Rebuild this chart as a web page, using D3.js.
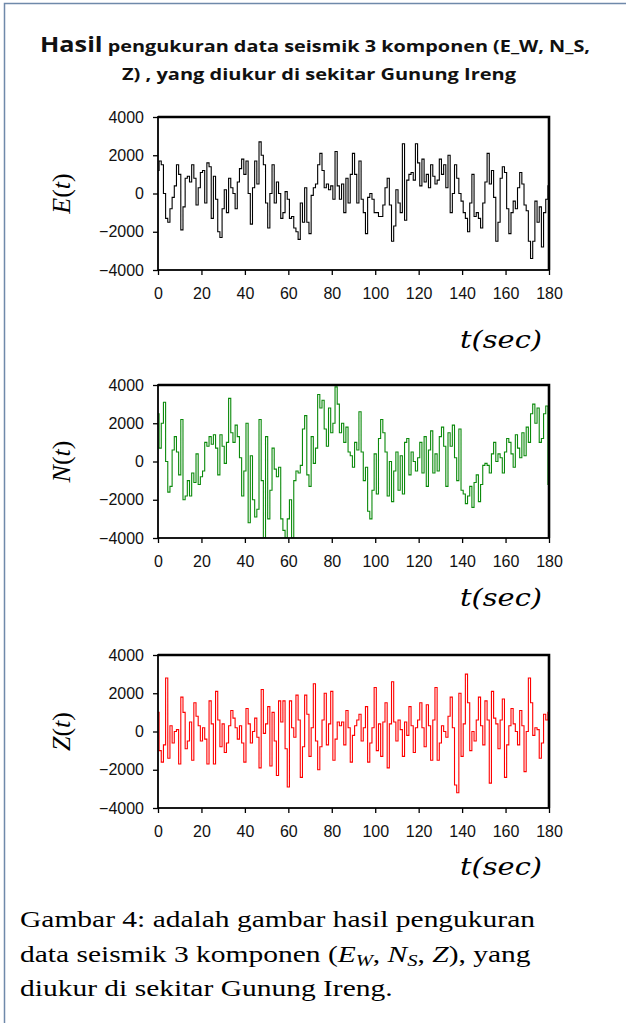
<!DOCTYPE html>
<html>
<head>
<meta charset="utf-8">
<script src="https://cdn.jsdelivr.net/npm/d3@7"></script>
<style>
  body { margin: 0; background: #fff; }
  svg { display: block; }
</style>
</head>
<body>
<div id="chart"></div>
<script>
// seismic 3-component record, Gunung Ireng (values read per second, 0..180 s)

const timeSec = d3.range(0, 181);

const eastWest = [
  1200, 1700, 1500, 0, -1300, -1500, -800, -200, 400, 1500,
  1000, -1900, -700, 800, 900, 600, 1500, 800, -600, 300,
  1100, 1200, -500, 1600, 1400, -1300, 900, -300, -2000, -2300,
  -800, 200, -1000, 800, 300, 0, -800, 600, 1300, 1800,
  1000, 1700, 0, -1600, 300, 1700, 500, 2700, 2000, 1500,
  -500, -1800, 0, 1500, -500, 600, 0, -1300, -1000, 100,
  -300, -1300, -1200, -1800, -2000, -2400, -500, -1500, 300, -1500,
  -2100, -100, 300, 500, 1500, 2100, 1200, 300, 500, 200,
  400, -300, 2200, 400, -300, 500, -1000, 800, -500, 1000,
  2100, 1000, -500, 1700, -300, -1000, -2100, -200, 0, -300,
  -1000, -1000, -1200, -1200, -600, 300, 800, -600, -2500, -1700,
  200, -500, -1000, 2600, -1400, 700, 1000, 1100, 700, 2600,
  1600, 400, 1800, 600, 1000, 300, 1500, 900, 500, 700,
  1800, 1000, 1500, 300, 2000, -1000, 0, 1500, 800, 0,
  -400, -1000, -1300, -2000, -500, 1000, -1200, -1000, -1300, -1800,
  -500, 600, 2100, 500, 1200, -200, -2500, -1500, 800, 1400,
  1100, -800, -2100, -1000, -400, -800, 300, 1100, 500, -600,
  -900, -2500, -3400, -2500, -400, -1500, -700, -2800, -1000, -300,
  400
];

const northSouth = [
  2500, 700, 2000, 3100, 0, -1600, -1300, 600, 1300, 500,
  -700, 2200, -2000, -1800, -1000, -1800, -600, -1100, 400, -1200,
  -800, -500, 1000, 800, 1300, 900, 1400, 700, -700, 1400,
  800, -100, 1000, 3300, 1500, 1000, 1900, 1300, 200, -1800,
  -500, 2000, -3200, 300, -2000, -2900, -2500, 2200, -1000, -4000,
  1300, -3000, -1500, 700, -400, -800, -300, -3000, -3600, -4000,
  -3000, -2000, -4000, -1000, -500, -600, -200, 1700, 2400, -700,
  -1300, 1300, -100, 700, 3500, 2800, 3200, 1700, 800, 2800,
  1500, 2000, 3900, 3000, 1500, 2000, 1000, 1800, 500, 300,
  -300, 1000, 600, 2600, 500, -1000, -300, -2600, -3000, -1500,
  400, -1700, 1200, 2200, 1500, 500, -1800, 0, -2100, -500,
  500, -1500, 300, -1700, 1000, 1200, -700, 500, 0, -500,
  200, 1000, -600, 1300, -1300, 600, 1600, -600, 400, -500,
  1300, 1800, 800, -1300, 1500, 800, 1900, 200, -1000, 1700,
  -1500, -1700, -2200, -1800, -1300, -2400, -1100, -700, -2100, -1200,
  -200, -100, -200, -600, 400, 1000, 0, 400, 200, -600,
  500, 1200, 1000, 400, -300, 1400, 700, 200, 1500, 300,
  1800, 1000, 2500, 3000, 2000, 2800, 1000, 1200, 2500, 2900,
  -1200
];

const vertical = [
  1000, -1000, -1600, -700, 2800, -1400, 300, -600, 0, 100,
  -1700, 1800, 1000, -900, -500, 500, -1500, 1500, 800, 300,
  -500, 200, -400, -1700, 1600, 400, -1700, 2100, 600, -800,
  400, -1100, -600, 300, 1100, 700, 200, -400, 300, -600,
  -1600, 1200, 400, -600, 0, 700, -300, -1900, 2200, -100,
  400, 1300, -1800, 1000, -500, -2300, 1600, 500, 1600, -900,
  -2900, 1600, 200, -300, 1900, 600, -2400, -800, 1900, 900,
  -1300, 200, 2500, -500, -2000, -800, 600, 2000, -700, 400,
  2100, -1500, -400, 500, 300, 500, -700, 1100, 200, -1600,
  -200, 300, 600, 900, -500, 200, 1300, -1600, -600, 200,
  2300, -1000, 400, -1300, 500, 1500, -1900, 400, 2600, 500,
  -500, 600, 100, -1300, 500, -200, 1300, 300, -1100, 200,
  600, 1500, 200, -800, 1400, 300, -1500, 600, 2300, -1500,
  -600, 300, 0, -300, 800, 1800, 200, -2800, -3200, 2000,
  -1300, 400, 3000, 1500, -1000, 0, -500, 600, 1800, 300,
  -700, 1600, 600, -2700, 2100, 700, 400, -900, 600, 1700,
  -2400, -700, 300, 1200, 400, 0, -700, 1100, 300, -2100,
  0, 2800, 1500, -200, 200, 100, -1400, -600, 900, 600,
  1000
];

const xTicks = [0, 20, 40, 60, 80, 100, 120, 140, 160, 180];
const yTicks = [-4000, -2000, 0, 2000, 4000];

const titleLine1 = ["Hasil", " pengukuran data seismik 3 komponen (E_W, N_S,"];
const titleLine2 = "Z) , yang diukur di sekitar  Gunung Ireng";

const panels = [
  { name: "E", values: eastWest, color: "#000000", top: 117, unitY: 348 },
  { name: "N", values: northSouth, color: "#0b8a0b", top: 385, unitY: 606 },
  { name: "Z", values: vertical, color: "#ff0000", top: 655, unitY: 875 }
];

const W = 626, H = 1023;
const plotLeft = 158, plotRight = 549, plotH = 153;

const svg = d3.select("#chart").append("svg")
  .attr("width", W).attr("height", H);

svg.append("rect").attr("width", W).attr("height", H).attr("fill", "#fff");

// page frame (left + top edges only)
svg.append("path")
  .attr("d", `M4.5,${H} V3.5 H${W}`)
  .attr("fill", "none").attr("stroke", "#6f89aa").attr("stroke-width", 1.5);

// title
const title = svg.append("g").attr("font-family", "'Open Sans', 'Liberation Sans', sans-serif")
  .attr("font-weight", "bold").attr("fill", "#111");
const t1 = title.append("text").attr("x", 40).attr("y", 52);
t1.append("tspan").attr("font-size", "21px").text(titleLine1[0]);
t1.append("tspan").attr("font-size", "16.5px").text(titleLine1[1]);
const t2 = title.append("text").attr("x", 122).attr("y", 80).attr("font-size", "16.5px").text(titleLine2);
fitWidth(t1, 550);
fitWidth(t2, 394);

function fitWidth(sel, w) {
  sel.attr("textLength", w).attr("lengthAdjust", "spacingAndGlyphs");
}

const x = d3.scaleLinear().domain([0, 180]).range([plotLeft, plotRight]);

panels.forEach(p => {
  const y = d3.scaleLinear().domain([-4000, 4000]).range([p.top + plotH, p.top]);
  const g = svg.append("g");

  // data clipped to plot box
  const clipId = "clip" + p.name;
  svg.append("clipPath").attr("id", clipId).append("rect")
    .attr("x", plotLeft).attr("y", p.top).attr("width", plotRight - plotLeft).attr("height", plotH);

  const line = d3.line()
    .x((d, i) => x(timeSec[i]))
    .y(d => y(d))
    .curve(d3.curveStep);

  g.append("path").datum(p.values)
    .attr("clip-path", `url(#${clipId})`)
    .attr("fill", "none").attr("stroke", p.color).attr("stroke-width", 1.1)
    .attr("d", line);

  // box: thin left/bottom, heavier top/right
  g.append("rect")
    .attr("x", plotLeft).attr("y", p.top).attr("width", plotRight - plotLeft).attr("height", plotH)
    .attr("fill", "none").attr("stroke", "#000").attr("stroke-width", 1.8);
  g.append("path")
    .attr("d", `M${plotLeft},${p.top} H${plotRight} V${p.top + plotH}`)
    .attr("fill", "none").attr("stroke", "#000").attr("stroke-width", 2.6);

  const xAxis = g.append("g").attr("transform", `translate(0,${p.top + plotH})`)
    .call(d3.axisBottom(x).tickValues(xTicks).tickSize(5).tickPadding(13).tickFormat(d3.format("d")));
  const yAxis = g.append("g").attr("transform", `translate(${plotLeft},0)`)
    .call(d3.axisLeft(y).tickValues(yTicks).tickSize(5).tickPadding(9).tickFormat(d3.format("d")));

  [xAxis, yAxis].forEach(a => {
    a.select(".domain").remove();
    a.selectAll(".tick line").attr("stroke", "#000").attr("stroke-width", 1.3);
    a.selectAll(".tick text")
      .style("font-family", "Arial, 'Liberation Sans', sans-serif")
      .style("font-size", "16px").attr("fill", "#111");
  });

  // y label, e.g. E(t)
  const yl = g.append("text")
    .attr("transform", `translate(70,${p.top + plotH / 2}) rotate(-90)`)
    .attr("text-anchor", "middle")
    .attr("font-family", "'Liberation Serif', 'DejaVu Serif', serif")
    .attr("font-size", "26px").attr("fill", "#000");
  yl.append("tspan").attr("font-style", "italic").text(p.name);
  yl.append("tspan").text("(");
  yl.append("tspan").attr("font-style", "italic").text("t");
  yl.append("tspan").text(")");

  // unit label t(sec)
  g.append("text")
    .attr("x", 460).attr("y", p.unitY)
    .attr("font-family", "'DejaVu Serif', serif").attr("font-style", "italic")
    .attr("font-size", "25px").attr("fill", "#000")
    .attr("textLength", 82).attr("lengthAdjust", "spacingAndGlyphs")
    .text("t(sec)");
});

// caption (LaTeX style)
const cap = svg.append("g")
  .attr("font-family", "'Liberation Serif', 'DejaVu Serif', serif")
  .attr("font-size", "23px").attr("fill", "#000");

const c1 = cap.append("text").attr("x", 20).attr("y", 927).text("Gambar 4: adalah gambar hasil pengukuran");
const c2 = cap.append("text").attr("x", 20).attr("y", 962);
c2.append("tspan").text("data seismik 3 komponen (");
c2.append("tspan").attr("font-style", "italic").text("E");
c2.append("tspan").attr("font-style", "italic").attr("font-size", "16px").attr("dy", 4).text("W");
c2.append("tspan").attr("dy", -4).text(", ");
c2.append("tspan").attr("font-style", "italic").text("N");
c2.append("tspan").attr("font-style", "italic").attr("font-size", "16px").attr("dy", 4).text("S");
c2.append("tspan").attr("dy", -4).text(", ");
c2.append("tspan").attr("font-style", "italic").text("Z");
c2.append("tspan").text("), yang");
const c3 = cap.append("text").attr("x", 20).attr("y", 996).text("diukur di sekitar Gunung Ireng.");

// stretch caption lines to the wider Computer Modern metrics
const k = 515 / c1.node().getComputedTextLength();
[c1, c2, c3].forEach(c => {
  const w = c.node().getComputedTextLength();
  c.attr("textLength", w * k).attr("lengthAdjust", "spacingAndGlyphs");
});
</script>
</body>
</html>
